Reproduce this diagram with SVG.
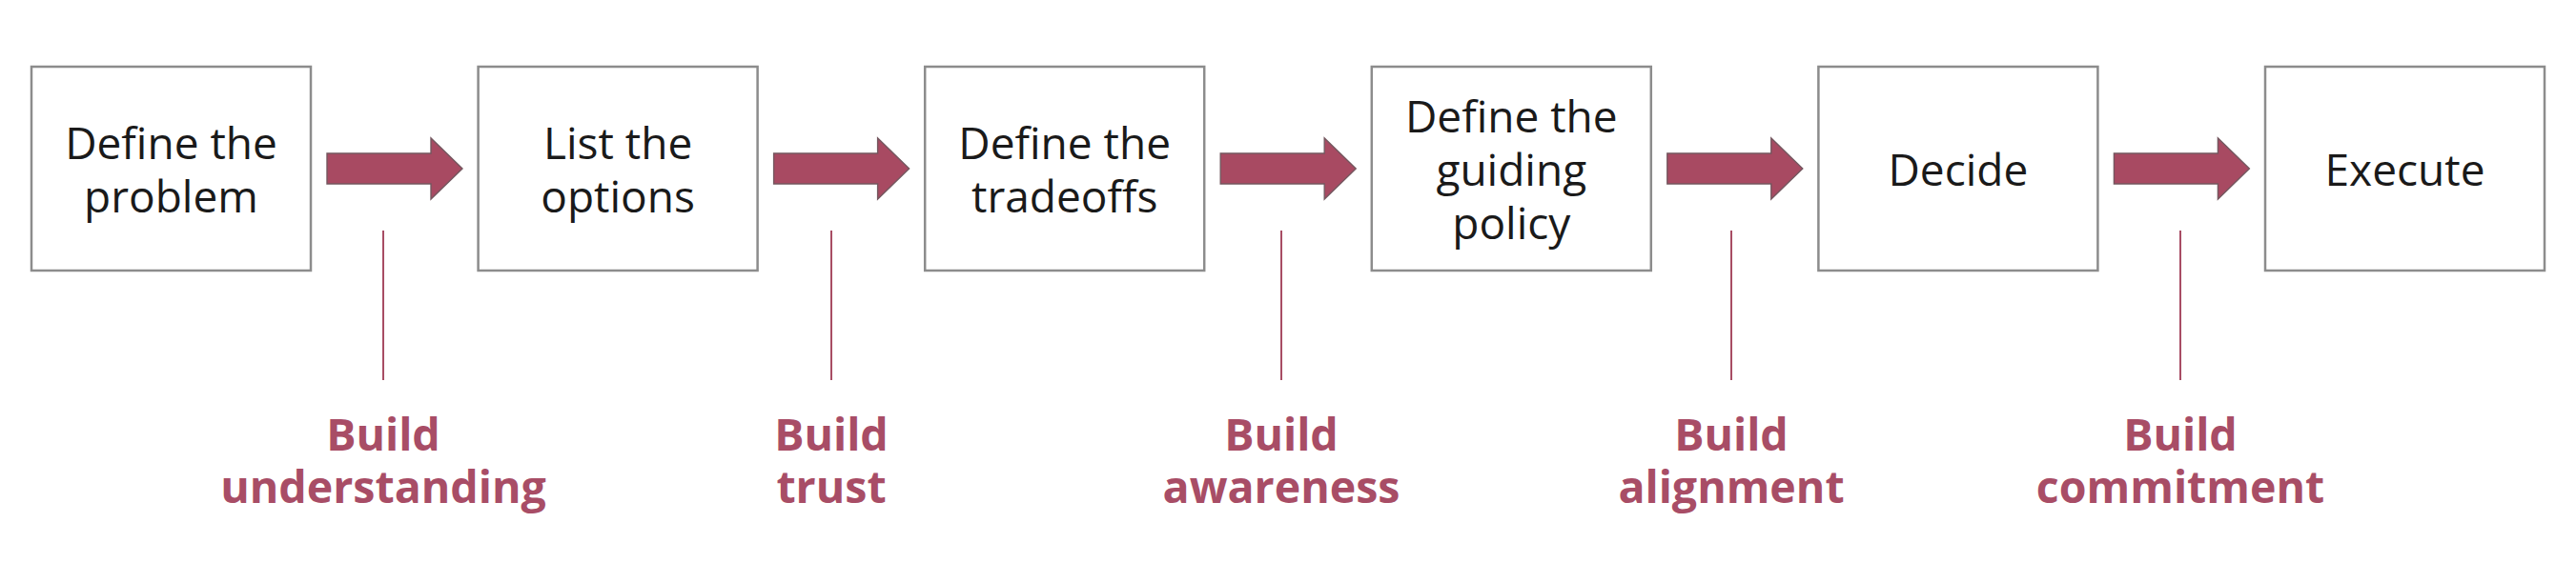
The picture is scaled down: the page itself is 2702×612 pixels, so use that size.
<svg xmlns="http://www.w3.org/2000/svg" width="2702" height="612" viewBox="0 0 2702 612">
  <defs>
    <style>
      .box { fill: #ffffff; stroke: #8c8c8c; stroke-width: 2.5; }
      .btxt { font-family: "Open Sans", "Noto Sans", "Liberation Sans", sans-serif; font-size: 46px; fill: #1a1a1a; text-anchor: middle; }
      .arrow { fill: #a84a62; stroke: #74575f; stroke-width: 1.4; stroke-linejoin: miter; }
      .tick { stroke: #a84d64; stroke-width: 2; fill: none; }
      .lbl { font-family: "Open Sans", "Noto Sans", "Liberation Sans", sans-serif; font-size: 46.5px; font-weight: 700; fill: #a84d66; text-anchor: middle; }
    </style>
  </defs>
  <rect x="0" y="0" width="2702" height="612" fill="#ffffff"/>

  <g id="node-define-problem">
    <rect class="box" x="33" y="70" width="293" height="214"/>
    <text class="btxt" x="179.5" y="167">Define the</text>
    <text class="btxt" x="179.5" y="223">problem</text>
  </g>
  <g id="node-list-options">
    <rect class="box" x="501.6" y="70" width="293" height="214"/>
    <text class="btxt" x="648.1" y="167">List the</text>
    <text class="btxt" x="648.1" y="223">options</text>
  </g>
  <g id="node-define-tradeoffs">
    <rect class="box" x="970.2" y="70" width="293" height="214"/>
    <text class="btxt" x="1116.7" y="167">Define the</text>
    <text class="btxt" x="1116.7" y="223">tradeoffs</text>
  </g>
  <g id="node-guiding-policy">
    <rect class="box" x="1438.8" y="70" width="293" height="214"/>
    <text class="btxt" x="1585.3" y="139">Define the</text>
    <text class="btxt" x="1585.3" y="195">guiding</text>
    <text class="btxt" x="1585.3" y="251">policy</text>
  </g>
  <g id="node-decide">
    <rect class="box" x="1907.4" y="70" width="293" height="214"/>
    <text class="btxt" x="2053.9" y="195">Decide</text>
  </g>
  <g id="node-execute">
    <rect class="box" x="2376" y="70" width="293" height="214"/>
    <text class="btxt" x="2522.5" y="195">Execute</text>
  </g>

  <g id="connectors">
    <path class="arrow" d="M343,161 H452 V145 L485,177 L452,209 V193 H343 Z"/>
    <path class="arrow" d="M811.6,161 H920.6 V145 L953.6,177 L920.6,209 V193 H811.6 Z"/>
    <path class="arrow" d="M1280.2,161 H1389.2 V145 L1422.2,177 L1389.2,209 V193 H1280.2 Z"/>
    <path class="arrow" d="M1748.8,161 H1857.8 V145 L1890.8,177 L1857.8,209 V193 H1748.8 Z"/>
    <path class="arrow" d="M2217.4,161 H2326.4 V145 L2359.4,177 L2326.4,209 V193 H2217.4 Z"/>
  </g>

  <g id="annotations">
    <g id="label-understanding">
      <line class="tick" x1="402" y1="242" x2="402" y2="399"/>
      <text class="lbl" x="402" y="473">Build</text>
      <text class="lbl" x="402" y="528">understanding</text>
    </g>
    <g id="label-trust">
      <line class="tick" x1="872" y1="242" x2="872" y2="399"/>
      <text class="lbl" x="872" y="473">Build</text>
      <text class="lbl" x="872" y="528">trust</text>
    </g>
    <g id="label-awareness">
      <line class="tick" x1="1344" y1="242" x2="1344" y2="399"/>
      <text class="lbl" x="1344" y="473">Build</text>
      <text class="lbl" x="1344" y="528">awareness</text>
    </g>
    <g id="label-alignment">
      <line class="tick" x1="1816" y1="242" x2="1816" y2="399"/>
      <text class="lbl" x="1816" y="473">Build</text>
      <text class="lbl" x="1816" y="528">alignment</text>
    </g>
    <g id="label-commitment">
      <line class="tick" x1="2287" y1="242" x2="2287" y2="399"/>
      <text class="lbl" x="2287" y="473">Build</text>
      <text class="lbl" x="2287" y="528">commitment</text>
    </g>
  </g>
</svg>
